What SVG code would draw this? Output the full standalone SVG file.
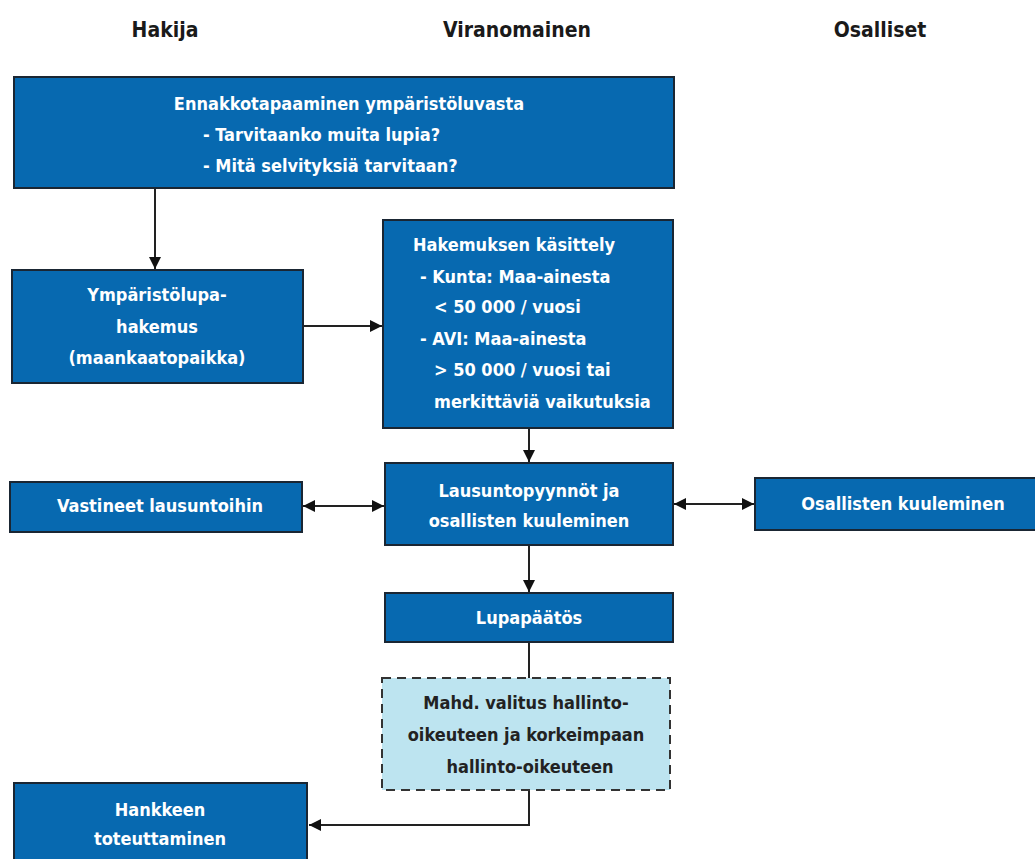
<svg xmlns="http://www.w3.org/2000/svg" width="1035" height="859" viewBox="0 0 1035 859">
<defs>
<style>
.box{fill:#0769b0;stroke:#1a2633;stroke-width:2}
.dash{fill:#bde4f0;stroke:#333;stroke-width:2;stroke-dasharray:9 6}
.t{font-family:"DejaVu Sans Condensed","DejaVu Sans",sans-serif;font-weight:bold;font-size:18px;fill:#ffffff}
.tc{text-anchor:middle}
.dk{fill:#222222}
.h{font-family:"DejaVu Sans Condensed","DejaVu Sans",sans-serif;font-weight:bold;font-size:21px;fill:#1a1a1a;text-anchor:middle}
.c{fill:none;stroke:#222;stroke-width:2}
</style>
<marker id="ah" viewBox="0 0 10 10" refX="10" refY="5" markerWidth="12" markerHeight="12" markerUnits="userSpaceOnUse" orient="auto-start-reverse">
<path d="M0,0 L10,5 L0,10 z" fill="#111"/>
</marker>
</defs>
<rect width="1035" height="859" fill="#ffffff"/>
<g id="headers">
<text class="h" x="165" y="37">Hakija</text>
<text class="h" x="517" y="37">Viranomainen</text>
<text class="h" x="880" y="37">Osalliset</text>
</g>
<g id="connectors">
<path class="c" d="M155,188 V269" marker-end="url(#ah)"/>
<path class="c" d="M303,326 H382" marker-end="url(#ah)"/>
<path class="c" d="M529,428 V462" marker-end="url(#ah)"/>
<path class="c" d="M303,506 H384" marker-start="url(#ah)" marker-end="url(#ah)"/>
<path class="c" d="M674,504 H754" marker-start="url(#ah)" marker-end="url(#ah)"/>
<path class="c" d="M529,545 V592" marker-end="url(#ah)"/>
<path class="c" d="M529,642 V678"/>
<path class="c" d="M529,790 V825 H309" marker-end="url(#ah)"/>
</g>
<g id="n1">
<rect class="box" x="14" y="77" width="660" height="111"/>
<text class="t tc" x="349" y="110">Ennakkotapaaminen ympäristöluvasta</text>
<text class="t" x="203" y="141">- Tarvitaanko muita lupia?</text>
<text class="t" x="203" y="172">- Mitä selvityksiä tarvitaan?</text>
</g>
<g id="n2">
<rect class="box" x="12" y="270" width="291" height="113"/>
<text class="t tc" x="157" y="301">Ympäristölupa-</text>
<text class="t tc" x="157" y="333">hakemus</text>
<text class="t tc" x="157" y="364">(maankaatopaikka)</text>
</g>
<g id="n3">
<rect class="box" x="383" y="220" width="290" height="208"/>
<text class="t" x="413" y="251">Hakemuksen käsittely</text>
<text class="t" x="420" y="283">- Kunta: Maa-ainesta</text>
<text class="t" x="434" y="313">&lt; 50 000 / vuosi</text>
<text class="t" x="420" y="345">- AVI: Maa-ainesta</text>
<text class="t" x="434" y="376">&gt; 50 000 / vuosi tai</text>
<text class="t" x="434" y="408">merkittäviä vaikutuksia</text>
</g>
<g id="n4">
<rect class="box" x="385" y="463" width="288" height="82"/>
<text class="t tc" x="529" y="497">Lausuntopyynnöt ja</text>
<text class="t tc" x="529" y="527">osallisten kuuleminen</text>
</g>
<g id="n5">
<rect class="box" x="10" y="482" width="292" height="50"/>
<text class="t tc" x="160" y="512">Vastineet lausuntoihin</text>
</g>
<g id="n6">
<rect class="box" x="755" y="478" width="285" height="52"/>
<text class="t tc" x="903" y="510">Osallisten kuuleminen</text>
</g>
<g id="n7">
<rect class="box" x="385" y="593" width="288" height="49"/>
<text class="t tc" x="529" y="624">Lupapäätös</text>
</g>
<g id="n8">
<rect class="dash" x="382" y="678" width="288" height="112"/>
<text class="t tc dk" x="526" y="709">Mahd. valitus hallinto-</text>
<text class="t tc dk" x="526" y="741">oikeuteen ja korkeimpaan</text>
<text class="t tc dk" x="530" y="773">hallinto-oikeuteen</text>
</g>
<g id="n9">
<rect class="box" x="14" y="783" width="293" height="80"/>
<text class="t tc" x="160" y="816">Hankkeen</text>
<text class="t tc" x="160" y="845">toteuttaminen</text>
</g>
</svg>
